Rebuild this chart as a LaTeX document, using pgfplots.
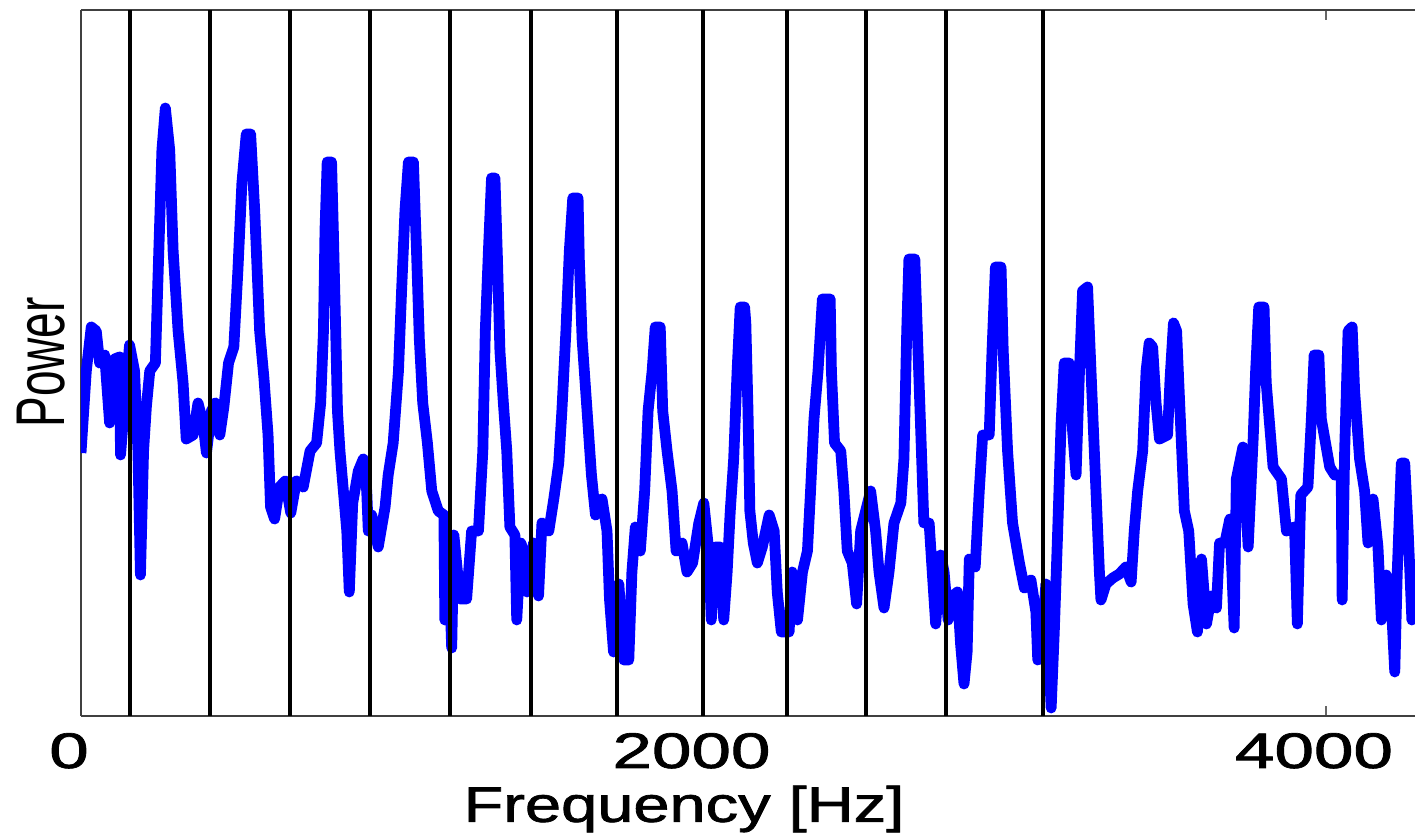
\documentclass[border=0pt]{standalone}
\usepackage{fontspec}
\setmainfont{Liberation Sans}
\newfontfamily\labelfont[FakeBold=1.3]{Liberation Sans}
\usepackage{pgfplots}
\pgfplotsset{compat=1.18}
\usepackage{pgfplotstable}
\pgfplotstableread{
f p
0 263
17 345
33 389
49 385
60 353
76 361
92 293
108 357
124 359
127 261
140 313
156 371
172 345
183 265
191 141
201 265
210 309
221 345
239 353
250 465
260 566
271 608
285 566
296 465
312 385
328 333
338 277
360 281
376 313
392 293
403 263
419 305
432 313
446 281
459 309
474 353
491 369
504 445
517 533
531 582
545 582
558 506
574 385
588 337
601 281
609 209
622 197
638 229
656 235
674 203
692 235
714 229
736 265
757 273
770 313
779 385
784 486
791 554
805 554
811 482
818 389
824 305
832 265
843 225
854 185
862 124
873 213
891 245
907 257
918 225
923 185
934 201
955 169
977 209
987 241
1003 273
1020 345
1030 425
1041 506
1052 554
1068 554
1078 465
1087 377
1098 313
1113 273
1127 225
1148 205
1166 201
1169 96
1183 144
1191 68
1198 181
1218 117
1239 117
1255 185
1277 185
1291 265
1299 385
1309 465
1319 538
1330 538
1338 457
1346 365
1357 313
1368 265
1378 189
1394 181
1400 96
1413 173
1422 165
1433 124
1454 173
1470 120
1481 193
1503 185
1519 217
1535 253
1545 305
1558 385
1569 465
1580 518
1597 518
1601 457
1610 377
1626 305
1640 241
1653 201
1674 217
1690 185
1698 117
1711 64
1728 132
1744 56
1760 56
1770 144
1781 189
1797 165
1811 225
1822 305
1835 345
1845 389
1861 389
1869 305
1883 265
1899 225
1912 165
1931 173
1947 144
1965 153
1985 193
2001 213
2017 165
2025 96
2038 169
2054 169
2065 96
2076 144
2086 205
2097 257
2108 345
2118 409
2132 409
2136 393
2143 305
2149 205
2160 173
2173 153
2189 169
2211 201
2227 185
2237 124
2250 84
2275 84
2285 144
2302 96
2318 144
2334 165
2344 225
2355 297
2368 345
2382 417
2407 417
2411 345
2421 273
2441 265
2451 225
2462 165
2478 153
2492 112
2505 185
2521 205
2537 225
2553 185
2564 144
2580 108
2596 144
2612 193
2634 213
2644 257
2653 385
2660 457
2679 457
2687 385
2698 285
2708 193
2725 193
2735 144
2746 92
2762 161
2773 144
2786 96
2800 120
2816 124
2826 72
2837 32
2847 64
2854 157
2873 149
2886 225
2897 281
2918 281
2927 365
2938 449
2956 449
2963 365
2977 265
2993 193
3015 153
3031 128
3052 136
3068 104
3074 56
3088 72
3100 132
3117 8
3127 84
3138 185
3149 293
3159 353
3175 353
3186 285
3197 241
3208 345
3218 425
3234 429
3245 345
3261 225
3272 144
3277 116
3293 132
3315 138
3336 142
3357 149
3374 134
3384 185
3395 225
3411 265
3422 345
3432 373
3443 369
3454 313
3465 277
3491 281
3499 337
3510 393
3520 385
3531 305
3545 205
3559 185
3573 112
3587 84
3600 157
3616 92
3632 120
3648 108
3658 173
3675 173
3691 197
3705 88
3712 237
3733 269
3750 169
3766 277
3774 345
3784 409
3801 409
3808 333
3830 249
3857 237
3873 185
3899 189
3908 92
3919 221
3942 229
3953 297
3962 361
3977 361
3985 297
4012 249
4028 241
4049 241
4052 116
4060 265
4071 385
4084 389
4092 325
4108 257
4124 225
4135 173
4151 217
4167 169
4178 96
4194 141
4210 112
4221 44
4229 144
4242 253
4253 253
4264 185
4276 96
4286 132
}\spectrum
\pgfplotstableread{
f h
158 706
415 706
672 706
930 706
1186 706
1446 706
1721 706
1998 706
2267 706
2523 706
2780 706
3090 706
}\bands

\begin{document}
\begin{tikzpicture}
\begin{axis}[
  name=ax,
  scale only axis, width=667pt, height=353pt,
  xmin=0, xmax=4286, ymin=0, ymax=706,
  axis x line*=box, axis y line*=left,
  axis line style={black!75, line width=0.7pt},
  xtick={0,2000,4000}, xticklabels={0,2000,4000},
  ytick=\empty,
  tick align=inside, major tick length=5pt,
  every tick/.style={black!60, line width=0.6pt},
  xticklabel style={font=\labelfont\fontsize{25}{30}\selectfont, anchor=base, yshift=-26pt, xshift=-6pt, xscale=1.42},
  xlabel={Frequency [Hz]},
  every axis x label/.style={at={(rel axis cs:0.452,-0.150)}, anchor=base, font=\labelfont\fontsize{25}{30}\selectfont, xscale=1.3},
  ylabel={\scalebox{1}[1.5]{Power}},
  every axis y label/.style={at={(rel axis cs:-0.030,0.501)}, anchor=center, rotate=90, font=\fontsize{23}{28}\selectfont},
]
\addplot[color={rgb,255:red,0;green,0;blue,255}, line width=5.4pt, line join=round, mark=none] table[x=f, y=p] {\spectrum};
\addplot[ycomb, black, line width=2pt, mark=none] table[x=f, y=h] {\bands};
\end{axis}
\pgfresetboundingbox
\path[use as bounding box] ([xshift=-40.5pt,yshift=-59pt]ax.south west) rectangle ([yshift=5pt]ax.north east);
\end{tikzpicture}
\end{document}
